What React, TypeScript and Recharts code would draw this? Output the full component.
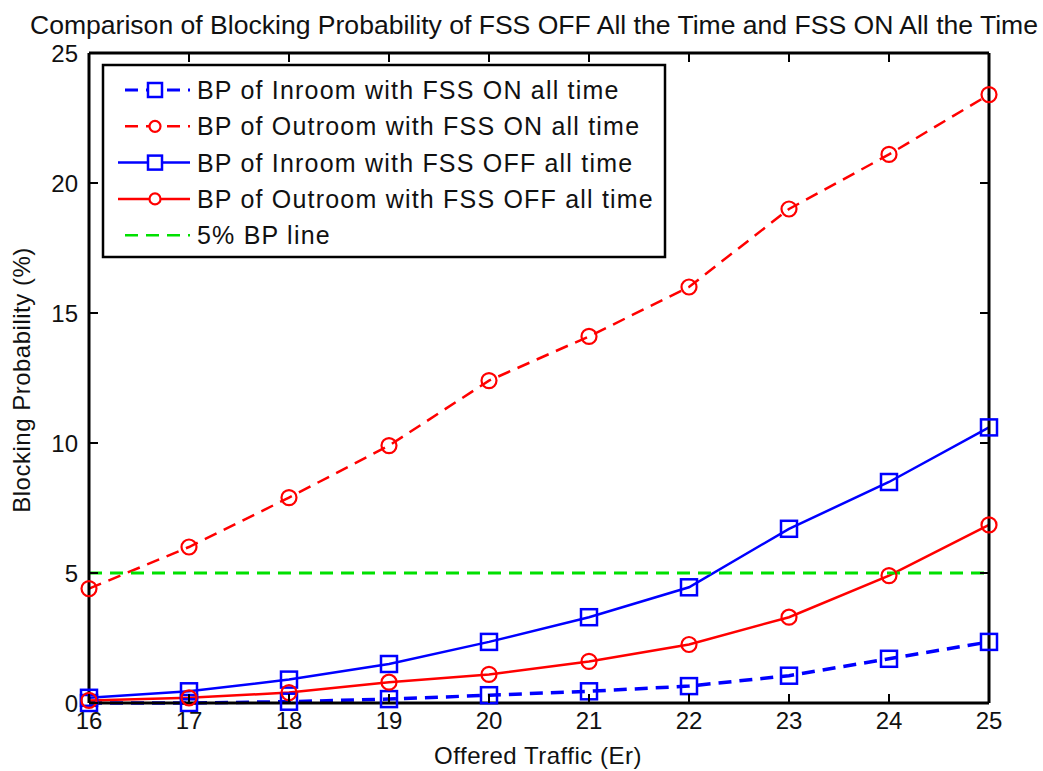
import React from "react";
import { LineChart, Line, XAxis, YAxis } from "recharts";

// offered traffic (Er)
const traffic = [16, 17, 18, 19, 20, 21, 22, 23, 24, 25];
// blocking probability (%)
const inroomOn = [0.0, 0.0, 0.05, 0.15, 0.3, 0.45, 0.65, 1.05, 1.7, 2.35];
const outroomOn = [4.4, 6.0, 7.9, 9.9, 12.4, 14.1, 16.0, 19.0, 21.1, 23.4];
const inroomOff = [0.2, 0.45, 0.9, 1.5, 2.35, 3.3, 4.45, 6.7, 8.5, 10.6];
const outroomOff = [0.1, 0.2, 0.4, 0.8, 1.1, 1.6, 2.25, 3.3, 4.9, 6.85];
const bpLine = [5, 5, 5, 5, 5, 5, 5, 5, 5, 5];

const xTicks = [16, 17, 18, 19, 20, 21, 22, 23, 24, 25];
const yTicks = [0, 5, 10, 15, 20, 25];

const BLUE = "#0000ff";
const RED = "#ff0000";
const GREEN = "#00e000";
const FONT = "'Liberation Sans', Arial, sans-serif";
const TS = 1; // tick size handed to recharts; the custom ticks subtract it back

const data = traffic.map((t, i) => ({
  t,
  inroomOn: inroomOn[i],
  outroomOn: outroomOn[i],
  inroomOff: inroomOff[i],
  outroomOff: outroomOff[i],
  bp: bpLine[i],
}));

const legendItems = [
  { label: "BP of Inroom with FSS ON all time", color: BLUE, dash: true, marker: "square" },
  { label: "BP of Outroom with FSS ON all time", color: RED, dash: true, marker: "circle" },
  { label: "BP of Inroom with FSS OFF all time", color: BLUE, dash: false, marker: "square" },
  { label: "BP of Outroom with FSS OFF all time", color: RED, dash: false, marker: "circle" },
  { label: "5% BP line", color: GREEN, dash: true, marker: "none" },
];

const SquareDot = (props: any) => {
  const { cx, cy } = props;
  if (cx == null || cy == null) return null;
  return (
    <rect x={cx - 8} y={cy - 8} width={16} height={16} fill="none" stroke={BLUE} strokeWidth={2.5} />
  );
};

const CircleDot = (props: any) => {
  const { cx, cy } = props;
  if (cx == null || cy == null) return null;
  return <circle cx={cx} cy={cy} r={7.5} fill="none" stroke={RED} strokeWidth={2.2} />;
};

// MATLAB-style ticks: short marks pointing into the plot box
const BottomTick = ({ x, y, payload }: any) => {
  const ay = y - TS;
  return (
    <g>
      <line x1={x} x2={x} y1={ay} y2={ay - 9} stroke="#000" strokeWidth={2} />
      <text x={x} y={ay + 26} textAnchor="middle" fontSize={24} fontFamily={FONT} fill="#111">
        {payload.value}
      </text>
    </g>
  );
};

const TopTick = ({ x, y }: any) => {
  const ay = y + TS;
  return <line x1={x} x2={x} y1={ay} y2={ay + 9} stroke="#000" strokeWidth={2} />;
};

const LeftTick = ({ x, y, payload }: any) => {
  const ax = x + TS;
  return (
    <g>
      <line x1={ax} x2={ax + 9} y1={y} y2={y} stroke="#000" strokeWidth={2} />
      <text x={ax - 11} y={y + 9} textAnchor="end" fontSize={24} fontFamily={FONT} fill="#111">
        {payload.value}
      </text>
    </g>
  );
};

const RightTick = ({ x, y }: any) => {
  const ax = x - TS;
  return <line x1={ax} x2={ax - 9} y1={y} y2={y} stroke="#000" strokeWidth={2} />;
};

const LegendBox = () => (
  <g transform="translate(103 65)">
    <rect x={0} y={0} width={562} height={192} fill="#fff" stroke="#000" strokeWidth={2.5} />
    {legendItems.map((it, i) => {
      const cy = 25 + i * 36.3;
      return (
        <g key={it.label}>
          <line
            x1={it.dash ? 22 : 15}
            x2={87}
            y1={cy}
            y2={cy}
            stroke={it.color}
            strokeWidth={it.color === BLUE && it.dash ? 3 : 2.5}
            strokeDasharray={it.dash ? "13 8" : undefined}
          />
          {it.marker === "square" && (
            <rect x={52 - 7} y={cy - 7} width={14} height={14} fill="#fff" stroke={it.color} strokeWidth={2.5} />
          )}
          {it.marker === "circle" && (
            <circle cx={52} cy={cy} r={5.5} fill="#fff" stroke={it.color} strokeWidth={2.2} />
          )}
          <text x={94} y={cy + 9} fontSize={25} letterSpacing={1.2} fontFamily={FONT} fill="#111">
            {it.label}
          </text>
        </g>
      );
    })}
  </g>
);

export default function App() {
  return (
    <div style={{ position: "relative", width: 1043, height: 771, background: "#fff" }}>
      <style>{`body{margin:0}`}</style>
      <LineChart
        width={1043}
        height={771}
        data={data}
        margin={{ top: 52, right: 53, left: 0, bottom: 0 }}
      >
        <XAxis
          dataKey="t"
          type="number"
          domain={[16, 25]}
          ticks={xTicks}
          height={68}
          tickSize={TS}
          tickMargin={0}
          tickLine={false}
          tick={<BottomTick />}
          axisLine={{ stroke: "#000", strokeWidth: 3 }}
          interval={0}
        />
        <XAxis
          xAxisId="top"
          dataKey="t"
          type="number"
          orientation="top"
          domain={[16, 25]}
          ticks={xTicks}
          height={1}
          tickSize={TS}
          tickMargin={0}
          tickLine={false}
          tick={<TopTick />}
          axisLine={{ stroke: "#000", strokeWidth: 3 }}
          interval={0}
        />
        <YAxis
          type="number"
          domain={[0, 25]}
          ticks={yTicks}
          width={89}
          tickSize={TS}
          tickMargin={0}
          tickLine={false}
          tick={<LeftTick />}
          axisLine={{ stroke: "#000", strokeWidth: 3 }}
          interval={0}
        />
        <YAxis
          yAxisId="right"
          orientation="right"
          type="number"
          domain={[0, 25]}
          ticks={yTicks}
          width={1}
          tickSize={TS}
          tickMargin={0}
          tickLine={false}
          tick={<RightTick />}
          axisLine={{ stroke: "#000", strokeWidth: 3 }}
          interval={0}
        />
        <Line
          dataKey="inroomOn"
          stroke={BLUE}
          strokeWidth={3.5}
          strokeDasharray="13 8"
          dot={<SquareDot />}
          isAnimationActive={false}
        />
        <Line
          dataKey="outroomOn"
          stroke={RED}
          strokeWidth={2.5}
          strokeDasharray="13 8"
          dot={<CircleDot />}
          isAnimationActive={false}
        />
        <Line
          dataKey="inroomOff"
          stroke={BLUE}
          strokeWidth={2.5}
          dot={<SquareDot />}
          isAnimationActive={false}
        />
        <Line
          dataKey="outroomOff"
          stroke={RED}
          strokeWidth={2.5}
          dot={<CircleDot />}
          isAnimationActive={false}
        />
        {/* the 5% line sits on the top/right axes (same domains) so the box edges render */}
        <Line
          xAxisId="top"
          yAxisId="right"
          dataKey="bp"
          stroke={GREEN}
          strokeWidth={3}
          strokeDasharray="13 8"
          dot={false}
          isAnimationActive={false}
        />
      </LineChart>
      <svg
        width={1043}
        height={771}
        style={{ position: "absolute", left: 0, top: 0, pointerEvents: "none" }}
      >
        <text x={30} y={34} fontSize={25} fontFamily={FONT} fill="#111" textLength={1008} lengthAdjust="spacingAndGlyphs">
          Comparison of Blocking Probability of FSS OFF All the Time and FSS ON All the Time
        </text>
        <text x={538} y={764} textAnchor="middle" fontSize={24} letterSpacing={0.5} fontFamily={FONT} fill="#111">
          Offered Traffic (Er)
        </text>
        <text
          x={0}
          y={0}
          transform="translate(30 380) rotate(-90)"
          textAnchor="middle"
          fontSize={24}
          letterSpacing={0.5}
          fontFamily={FONT}
          fill="#111"
        >
          Blocking Probability (%)
        </text>
        <LegendBox />
      </svg>
    </div>
  );
}
